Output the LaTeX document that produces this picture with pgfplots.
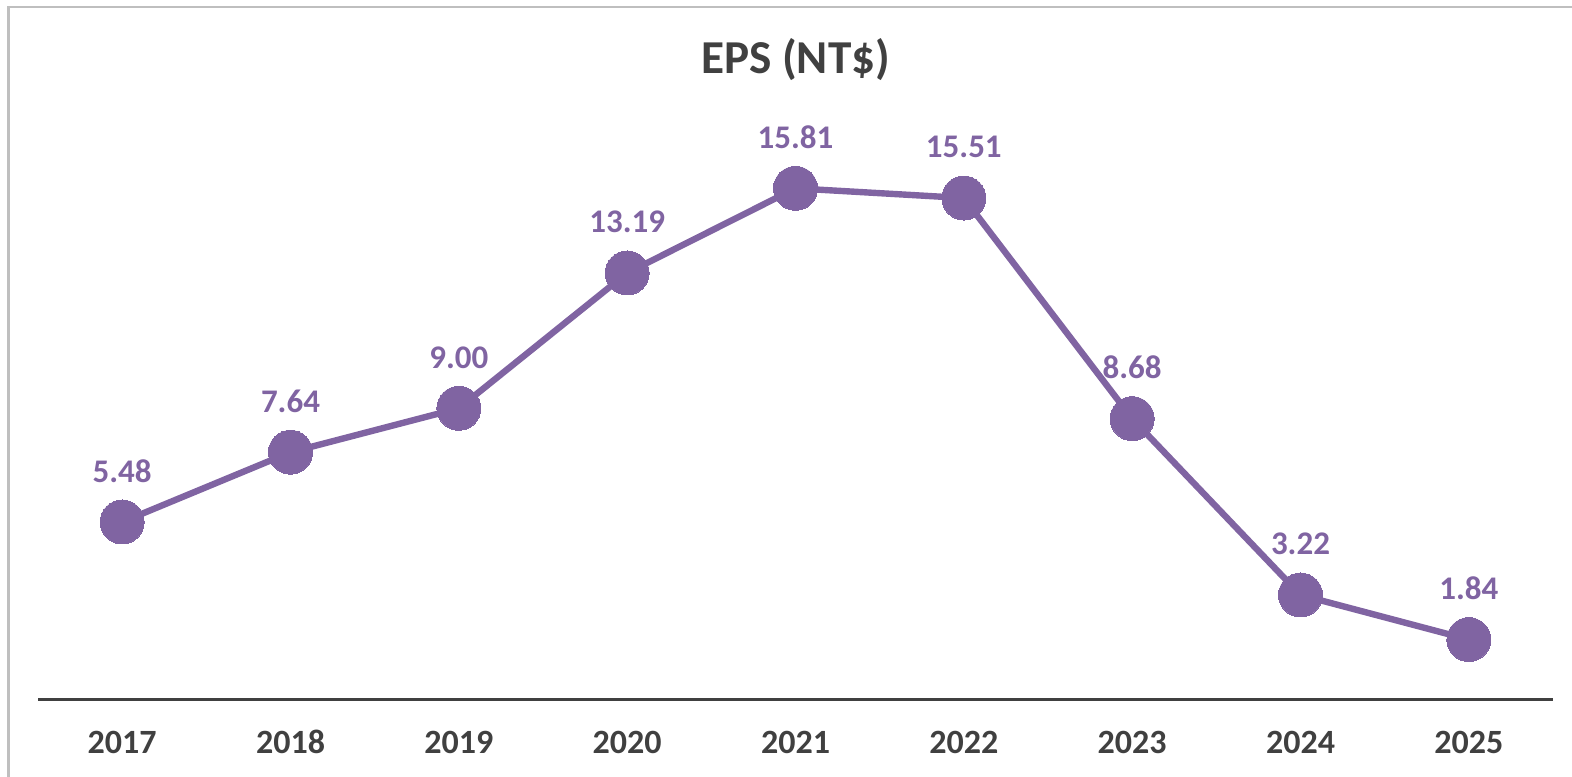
\documentclass[border=0pt]{standalone}
\usepackage{pgfplots}
\pgfplotsset{compat=1.18}
\usepackage{fontspec}
\setmainfont{Carlito}
\definecolor{eps}{HTML}{8064A2}
\definecolor{txt}{HTML}{404040}
\definecolor{framec}{HTML}{BFBFBF}
\begin{document}
\begin{tikzpicture}
\path[use as bounding box] (-19pt,-38.5pt) rectangle (767pt,349.5pt);
\draw[framec, line width=1.35pt] (-14.75pt,-45pt) -- (-14.75pt,346pt) -- (775pt,346pt);
\begin{axis}[
  at={(0pt,0pt)}, anchor=south west,
  scale only axis, width=757.5pt, height=290.7pt,
  xmin=-0.5, xmax=8.5, ymin=0, ymax=18,
  clip=false,
  axis x line*=bottom, axis y line=none,
  x axis line style={txt, line width=1.5pt, -},
  xtick={0,...,8},
  xticklabels={2017,2018,2019,2020,2021,2022,2023,2024,2025},
  major tick length=0pt,
  xticklabel style={anchor=center, yshift=-21.5pt, text=txt, font=\bfseries\fontsize{17}{17}\selectfont},
  ytick=\empty,
  nodes near coords, point meta=explicit symbolic,
  every node near coord/.append style={anchor=center, yshift=25.5pt, text=eps, font=\bfseries\fontsize{16.5}{16.5}\selectfont},
]
\addplot[eps, line width=3.2pt, mark=*, mark size=11pt, mark options={fill=eps, draw=eps, line width=0pt}]
coordinates {
(0,5.48) [5.48]
(1,7.64) [7.64]
(2,9.00) [9.00]
(3,13.19) [13.19]
(4,15.81) [15.81]
(5,15.51) [15.51]
(6,8.68) [8.68]
(7,3.22) [3.22]
(8,1.84) [1.84]
};
\end{axis}
\node[text=txt, font=\bfseries\fontsize{23.6}{23.6}\selectfont] at (378.75pt,319.5pt) {EPS (NT\$)};
\end{tikzpicture}
\end{document}
